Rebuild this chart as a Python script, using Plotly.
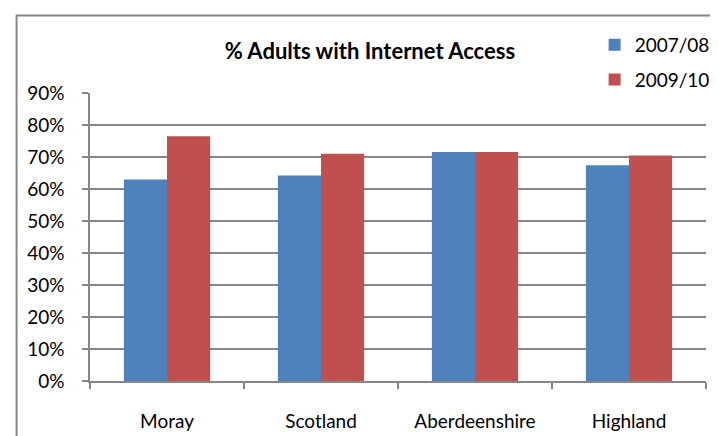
import plotly.graph_objects as go

regions = ["Moray", "Scotland", "Aberdeenshire", "Highland"]
access_2007_08 = [0.630, 0.642, 0.716, 0.674]
access_2009_10 = [0.765, 0.710, 0.716, 0.705]

W, H = 718, 436
L, R, T, B = 82, 11, 85, 63
FONT = "Lato, Open Sans, sans-serif"
GREY = "#868686"

fig = go.Figure()
fig.add_trace(go.Bar(x=regions, y=access_2007_08, name="2007/08", legendgroup="a",
                     marker=dict(color="#4F81BD", line=dict(width=0))))
fig.add_trace(go.Bar(x=regions, y=access_2009_10, name="2009/10", legendgroup="b",
                     marker=dict(color="#C0504D", line=dict(width=0))))


def px_x(p):
    return (p - L) / (W - L - R)


def px_y(p):
    return (H - B - p) / (H - T - B)


fig.update_layout(
    width=W, height=H,
    margin=dict(l=L, r=R, t=T, b=B),
    paper_bgcolor="white", plot_bgcolor="white",
    font=dict(family=FONT, size=19, color="black"),
    barmode="group", bargap=0.44, bargroupgap=0,
    title=dict(text="<b>% Adults with Internet Access</b>", x=px_x(366), xref="paper",
               xanchor="center", y=1 - 43 / H, yanchor="middle",
               font=dict(family=FONT, size=22)),
    legend=dict(x=px_x(594), y=px_y(18), xanchor="left", yanchor="top",
                font=dict(size=19), itemwidth=30, tracegroupgap=7,
                bgcolor="rgba(0,0,0,0)"),
    showlegend=True,
    shapes=[dict(type="rect", xref="paper", yref="paper",
                 x0=px_x(7.5), x1=px_x(760), y0=px_y(480), y1=px_y(7.5),
                 line=dict(color=GREY, width=2), layer="below")],
)
fig.update_yaxes(range=[0, 0.9], dtick=0.1, tickformat=".0%",
                 showgrid=True, gridcolor=GREY, gridwidth=1.5,
                 showline=True, linecolor=GREY, linewidth=1.5,
                 ticks="outside", tickcolor=GREY, ticklen=6, tickwidth=1.5,
                 ticklabelstandoff=14, zeroline=False, fixedrange=True)
fig.update_xaxes(showline=True, linecolor=GREY, linewidth=1.5,
                 ticks="outside", tickson="boundaries", tickcolor=GREY,
                 ticklen=6, tickwidth=1.5, ticklabelstandoff=22, fixedrange=True)

fig.write_html("out.html")
